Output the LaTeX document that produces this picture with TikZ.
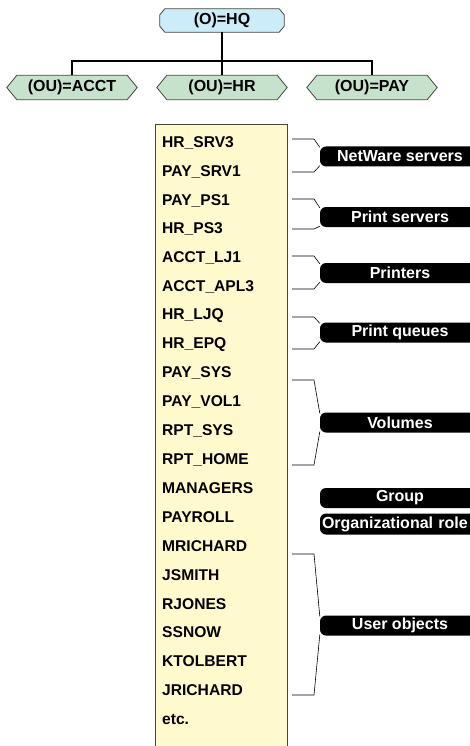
\documentclass[tikz,border=0pt]{standalone}
\usepackage{fontspec}
\setmainfont{Liberation Sans}
\usetikzlibrary{backgrounds,calc}
\definecolor{hqblue}{RGB}{205,236,250}
\definecolor{ougreen}{RGB}{198,226,204}
\definecolor{listyellow}{RGB}{255,250,205}
\definecolor{listborder}{RGB}{70,70,60}
\tikzset{
  topn/.style={font=\fontsize{16}{18}\selectfont\bfseries, inner sep=0pt, minimum width=124pt, minimum height=23pt},
  oun/.style={font=\fontsize{16}{18}\selectfont\bfseries, inner sep=0pt, minimum width=130pt, minimum height=24pt},
  item/.style={anchor=west, font=\fontsize{15.6}{18}\selectfont\bfseries, inner sep=0pt},
  lbl/.style={fill=black, text=white, rounded corners=6pt, minimum width=160pt, minimum height=20pt, inner sep=0pt, font=\fontsize{16}{18}\selectfont\bfseries},
  brk/.style={draw=black, line width=0.6pt},
  tree/.style={draw=black, line width=1.4pt},
  shapeline/.style={draw=listborder, line width=0.8pt}
}
\begin{document}
\begin{tikzpicture}[x=1pt,y=-1pt]
\useasboundingbox (0,0) rectangle (469,746);
% top nodes
\node[topn] (hq) at (222,20.5) {(O)=HQ};
\node[oun] (acct) at (72,87.5) {(OU)=ACCT};
\node[oun] (hr) at (222,87.5) {(OU)=HR};
\node[oun] (pay) at (372,87.5) {(OU)=PAY};
\begin{scope}[on background layer]
  \fill[white] (0,0) rectangle (469,746);
  \draw[shapeline, fill=hqblue] ([xshift=5pt]hq.north west) -- ([xshift=-5pt]hq.north east)
    -- ([yshift=-6pt]hq.north east) -- ([yshift=6pt]hq.south east)
    -- ([xshift=-5pt]hq.south east) -- ([xshift=5pt]hq.south west)
    -- ([yshift=6pt]hq.south west) -- ([yshift=-6pt]hq.north west) -- cycle;
  \foreach \n in {acct,hr,pay}{
    \draw[shapeline, fill=ougreen] ([xshift=10pt]\n.north west) -- ([xshift=-10pt]\n.north east)
      -- (\n.east) -- ([xshift=-10pt]\n.south east) -- ([xshift=10pt]\n.south west)
      -- (\n.west) -- cycle;
  }
\end{scope}
% tree connectors
\coordinate (bar) at (0,61);
\draw[tree] (hq.south) -- (hq.south |- bar);
\draw[tree] (acct.north) -- (acct.north |- bar) -- (pay.north |- bar) -- (pay.north);
\draw[tree] (hr.north) -- (hr.north |- bar);
% list box
\node[draw=listborder, line width=0.8pt, fill=listyellow, minimum width=132pt, minimum height=660pt, anchor=north west, inner sep=0pt] (list) at (155,124) {};
\foreach \t [count=\i from 0] in {HR\_SRV3,PAY\_SRV1,PAY\_PS1,HR\_PS3,ACCT\_LJ1,ACCT\_APL3,HR\_LJQ,HR\_EPQ,PAY\_SYS,PAY\_VOL1,RPT\_SYS,RPT\_HOME,MANAGERS,PAYROLL,MRICHARD,JSMITH,RJONES,SSNOW,KTOLBERT,JRICHARD,etc.}{
  \node[item] (it\i) at (162,143+28.8*\i) {\t};
}
% labels with brackets
\foreach \n/\c/\a/\b/\t in {nw/156.5/139/172/NetWare servers, ps/217/199/229/Print servers, pr/273/256/289/Printers, pq/332.5/317/349/Print queues, vol/422.5/380/465/Volumes, uo/625.5/554/695/User objects}{
  \node[lbl] (\n) at (400,\c) {\t};
  \coordinate (\n a) at (292,\a);
  \coordinate (\n b) at (292,\b);
  \draw[brk] (\n a) -- ++(22,0) -- ([yshift=-1pt]\n.north west);
  \draw[brk] (\n b) -- ++(22,0) -- ([yshift=1pt]\n.south west);
}
\node[lbl] (grp) at (400,498) {Group};
\node[lbl, text width=156pt, align=left, minimum height=21pt] (org) at (400,524) {Organizational role};
\end{tikzpicture}
\end{document}
